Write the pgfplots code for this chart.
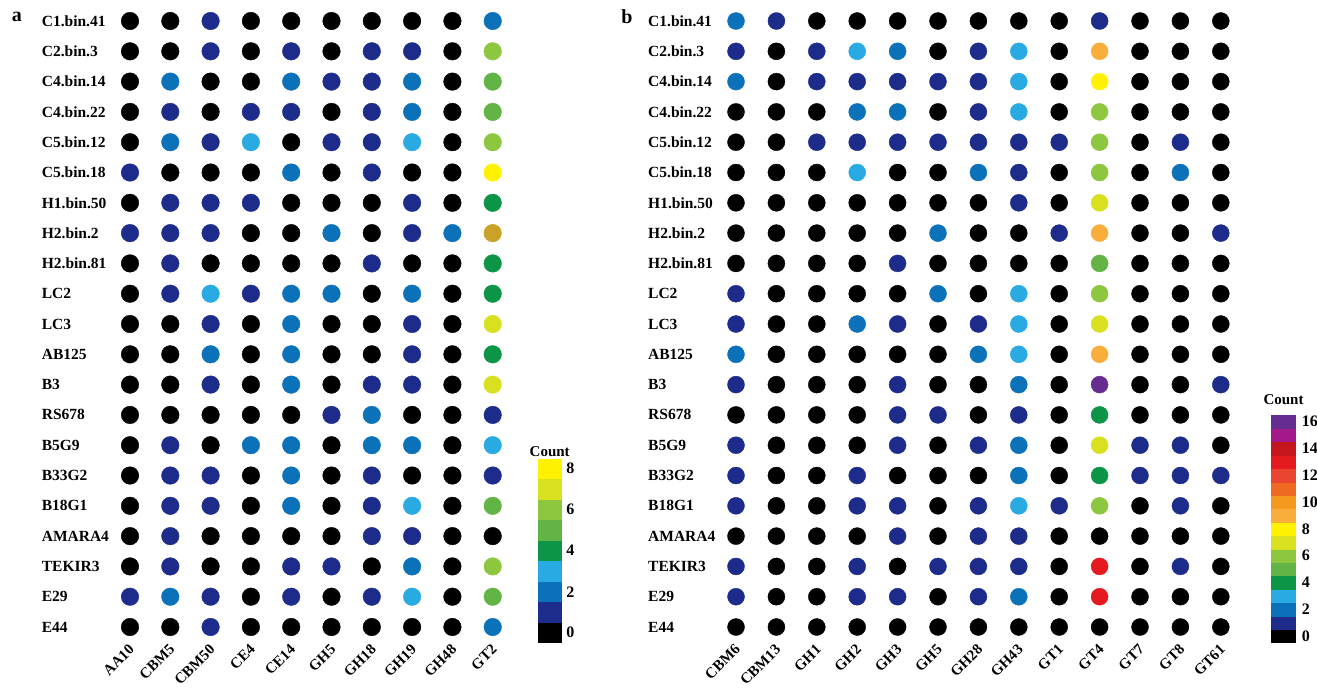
\documentclass[border=0pt]{standalone}
\usepackage{fontspec}
\setmainfont{Liberation Serif}
\usepackage{pgfplots}
\pgfplotsset{compat=1.18}
\definecolor{c0}{RGB}{0,0,0}
\definecolor{c1}{RGB}{29,44,138}
\definecolor{c2}{RGB}{11,113,185}
\definecolor{c3}{RGB}{42,170,226}
\definecolor{c4}{RGB}{12,148,71}
\definecolor{c5}{RGB}{98,180,70}
\definecolor{c6}{RGB}{141,198,63}
\definecolor{c7}{RGB}{216,224,32}
\definecolor{c8}{RGB}{255,242,0}
\definecolor{c9}{RGB}{249,174,59}
\definecolor{c10}{RGB}{243,154,30}
\definecolor{c11}{RGB}{238,106,35}
\definecolor{c12}{RGB}{233,68,48}
\definecolor{c13}{RGB}{229,26,31}
\definecolor{c14}{RGB}{196,22,28}
\definecolor{c15}{RGB}{163,25,140}
\definecolor{c16}{RGB}{102,45,145}
\definecolor{gold}{RGB}{201,162,39}
\pgfplotsset{
  /pgf/number format/assume math mode=true,
  colormap={mapA}{color=(c0) color=(c1) color=(c2) color=(c3) color=(c4) color=(c5) color=(c6) color=(c7) color=(c8)},
  colormap={mapB}{color=(c0) color=(c1) color=(c2) color=(c3) color=(c4) color=(c5) color=(c6) color=(c7) color=(c8) color=(c9) color=(c10) color=(c11) color=(c12) color=(c13) color=(c14) color=(c15) color=(c16)},
  dotpanel/.style={
    scale only axis, enlargelimits=false, y dir=reverse,
    ymin=-0.5, ymax=20.5, ytick={0,...,20},
    axis line style={draw=none}, tick style={draw=none},
    height=636.3pt,
    yticklabels={C1.bin.41,C2.bin.3,C4.bin.14,C4.bin.22,C5.bin.12,C5.bin.18,H1.bin.50,H2.bin.2,H2.bin.81,LC2,LC3,AB125,B3,RS678,B5G9,B33G2,B18G1,AMARA4,TEKIR3,E29,E44},
    yticklabel style={font=\bfseries\fontsize{15.5}{16}\selectfont, anchor=west, inner sep=0pt},
    xticklabel style={font=\bfseries\fontsize{15}{15}\selectfont, xshift=-2pt, yshift=-1pt, rotate=45, anchor=north east, inner sep=0pt},
    colormap access=piecewise constant,
    colorbar,
  },
  dots/.style={scatter, only marks, mark=*, mark size=#1, point meta=explicit,
    scatter/use mapped color={draw=mapped color, fill=mapped color}},
}
\begin{document}
\begin{tikzpicture}
\path[use as bounding box] (0,0) rectangle (1317pt,-688pt);
\node[font=\bfseries\fontsize{20}{20}\selectfont] at (17pt,-17pt) {a};
\node[font=\bfseries\fontsize{20}{20}\selectfont] at (627pt,-17pt) {b};
% ---------------- panel a ----------------
\begin{axis}[dotpanel,
  at={(109.85pt,-642.15pt)}, anchor=south west,
  width=403pt, xmin=-0.5, xmax=9.5, xtick={0,...,9},
  xticklabels={AA10,CBM5,CBM50,CE4,CE14,GH5,GH18,GH19,GH48,GT2},
  yticklabel style={xshift=-68.2pt},
  colormap name=mapA, point meta min=-0.5, point meta max=8.5,
  colorbar style={at={(parent axis.south east)}, anchor=south west,
    xshift=16.8pt, yshift=-0.8pt, scale only axis, width=23pt, height=184.5pt,
    ytick={0,2,4,6,8}, axis line style={draw=none}, tick style={draw=none},
    yticklabel style={font=\bfseries\fontsize{16}{16}\selectfont, inner sep=0pt, xshift=5pt},
    title={Count}, title style={font=\bfseries\fontsize{15}{15}\selectfont, at={(0.5,1)}, anchor=south, yshift=-4pt, inner sep=0pt}},
]
\addplot[dots=8.8pt] coordinates {
(0,0)[0] (1,0)[0] (2,0)[1] (3,0)[0] (4,0)[0] (5,0)[0] (6,0)[0] (7,0)[0] (8,0)[0] (9,0)[2]
(0,1)[0] (1,1)[0] (2,1)[1] (3,1)[0] (4,1)[1] (5,1)[0] (6,1)[1] (7,1)[1] (8,1)[0] (9,1)[6]
(0,2)[0] (1,2)[2] (2,2)[0] (3,2)[0] (4,2)[2] (5,2)[1] (6,2)[1] (7,2)[2] (8,2)[0] (9,2)[5]
(0,3)[0] (1,3)[1] (2,3)[0] (3,3)[1] (4,3)[1] (5,3)[0] (6,3)[1] (7,3)[2] (8,3)[0] (9,3)[5]
(0,4)[0] (1,4)[2] (2,4)[1] (3,4)[3] (4,4)[0] (5,4)[1] (6,4)[1] (7,4)[3] (8,4)[0] (9,4)[6]
(0,5)[1] (1,5)[0] (2,5)[0] (3,5)[0] (4,5)[2] (5,5)[0] (6,5)[1] (7,5)[0] (8,5)[0] (9,5)[8]
(0,6)[0] (1,6)[1] (2,6)[1] (3,6)[1] (4,6)[0] (5,6)[0] (6,6)[0] (7,6)[1] (8,6)[0] (9,6)[4]
(0,7)[1] (1,7)[1] (2,7)[1] (3,7)[0] (4,7)[0] (5,7)[2] (6,7)[0] (7,7)[1] (8,7)[2]
(0,8)[0] (1,8)[1] (2,8)[0] (3,8)[0] (4,8)[0] (5,8)[0] (6,8)[1] (7,8)[0] (8,8)[0] (9,8)[4]
(0,9)[0] (1,9)[1] (2,9)[3] (3,9)[1] (4,9)[2] (5,9)[2] (6,9)[0] (7,9)[2] (8,9)[0] (9,9)[4]
(0,10)[0] (1,10)[0] (2,10)[1] (3,10)[0] (4,10)[2] (5,10)[0] (6,10)[0] (7,10)[1] (8,10)[0] (9,10)[7]
(0,11)[0] (1,11)[0] (2,11)[2] (3,11)[0] (4,11)[2] (5,11)[0] (6,11)[0] (7,11)[1] (8,11)[0] (9,11)[4]
(0,12)[0] (1,12)[0] (2,12)[1] (3,12)[0] (4,12)[2] (5,12)[0] (6,12)[1] (7,12)[1] (8,12)[0] (9,12)[7]
(0,13)[0] (1,13)[0] (2,13)[0] (3,13)[0] (4,13)[0] (5,13)[1] (6,13)[2] (7,13)[0] (8,13)[0] (9,13)[1]
(0,14)[0] (1,14)[1] (2,14)[0] (3,14)[2] (4,14)[2] (5,14)[0] (6,14)[2] (7,14)[2] (8,14)[0] (9,14)[3]
(0,15)[0] (1,15)[1] (2,15)[1] (3,15)[0] (4,15)[2] (5,15)[0] (6,15)[1] (7,15)[0] (8,15)[0] (9,15)[1]
(0,16)[0] (1,16)[1] (2,16)[1] (3,16)[0] (4,16)[2] (5,16)[0] (6,16)[1] (7,16)[3] (8,16)[0] (9,16)[5]
(0,17)[0] (1,17)[1] (2,17)[0] (3,17)[0] (4,17)[0] (5,17)[0] (6,17)[1] (7,17)[1] (8,17)[0] (9,17)[0]
(0,18)[0] (1,18)[1] (2,18)[0] (3,18)[0] (4,18)[1] (5,18)[1] (6,18)[0] (7,18)[2] (8,18)[0] (9,18)[6]
(0,19)[1] (1,19)[2] (2,19)[1] (3,19)[0] (4,19)[1] (5,19)[0] (6,19)[1] (7,19)[3] (8,19)[0] (9,19)[5]
(0,20)[0] (1,20)[0] (2,20)[1] (3,20)[0] (4,20)[0] (5,20)[0] (6,20)[0] (7,20)[0] (8,20)[0] (9,20)[2]
};
% the off-scale gold dot (H2.bin.2, GT2)
\addplot[only marks, mark=*, mark size=8.8pt, color=gold] coordinates {(9,7)};
\end{axis}
% ---------------- panel b ----------------
\begin{axis}[dotpanel,
  at={(715.8pt,-642.15pt)}, anchor=south west,
  width=525.2pt, xmin=-0.5, xmax=12.5, xtick={0,...,12},
  xticklabels={CBM6,CBM13,GH1,GH2,GH3,GH5,GH28,GH43,GT1,GT4,GT7,GT8,GT61},
  yticklabel style={xshift=-67.8pt},
  colormap name=mapB, point meta min=-0.5, point meta max=16.5,
  colorbar style={at={(parent axis.south east)}, anchor=south west,
    xshift=21pt, yshift=-0.8pt, scale only axis, width=26pt, height=228pt,
    ytick={0,2,4,6,8,10,12,14,16}, axis line style={draw=none}, tick style={draw=none},
    yticklabel style={font=\bfseries\fontsize{16}{16}\selectfont, inner sep=0pt, xshift=5pt},
    title={Count}, title style={font=\bfseries\fontsize{15}{15}\selectfont, at={(0.5,1)}, anchor=south, yshift=4pt, inner sep=0pt}},
]
\addplot[dots=8.5pt] coordinates {
(0,0)[2] (1,0)[1] (2,0)[0] (3,0)[0] (4,0)[0] (5,0)[0] (6,0)[0] (7,0)[0] (8,0)[0] (9,0)[1] (10,0)[0] (11,0)[0] (12,0)[0]
(0,1)[1] (1,1)[0] (2,1)[1] (3,1)[3] (4,1)[2] (5,1)[0] (6,1)[1] (7,1)[3] (8,1)[0] (9,1)[9] (10,1)[0] (11,1)[0] (12,1)[0]
(0,2)[2] (1,2)[0] (2,2)[1] (3,2)[1] (4,2)[1] (5,2)[1] (6,2)[1] (7,2)[3] (8,2)[0] (9,2)[8] (10,2)[0] (11,2)[0] (12,2)[0]
(0,3)[0] (1,3)[0] (2,3)[0] (3,3)[2] (4,3)[2] (5,3)[0] (6,3)[1] (7,3)[3] (8,3)[0] (9,3)[6] (10,3)[0] (11,3)[0] (12,3)[0]
(0,4)[0] (1,4)[0] (2,4)[1] (3,4)[1] (4,4)[1] (5,4)[1] (6,4)[1] (7,4)[1] (8,4)[1] (9,4)[6] (10,4)[0] (11,4)[1] (12,4)[0]
(0,5)[0] (1,5)[0] (2,5)[0] (3,5)[3] (4,5)[0] (5,5)[0] (6,5)[2] (7,5)[1] (8,5)[0] (9,5)[6] (10,5)[0] (11,5)[2] (12,5)[0]
(0,6)[0] (1,6)[0] (2,6)[0] (3,6)[0] (4,6)[0] (5,6)[0] (6,6)[0] (7,6)[1] (8,6)[0] (9,6)[7] (10,6)[0] (11,6)[0] (12,6)[0]
(0,7)[0] (1,7)[0] (2,7)[0] (3,7)[0] (4,7)[0] (5,7)[2] (6,7)[0] (7,7)[0] (8,7)[1] (9,7)[9] (10,7)[0] (11,7)[0] (12,7)[1]
(0,8)[0] (1,8)[0] (2,8)[0] (3,8)[0] (4,8)[1] (5,8)[0] (6,8)[0] (7,8)[0] (8,8)[0] (9,8)[5] (10,8)[0] (11,8)[0] (12,8)[0]
(0,9)[1] (1,9)[0] (2,9)[0] (3,9)[0] (4,9)[0] (5,9)[2] (6,9)[0] (7,9)[3] (8,9)[0] (9,9)[6] (10,9)[0] (11,9)[0] (12,9)[0]
(0,10)[1] (1,10)[0] (2,10)[0] (3,10)[2] (4,10)[1] (5,10)[0] (6,10)[1] (7,10)[3] (8,10)[0] (9,10)[7] (10,10)[0] (11,10)[0] (12,10)[0]
(0,11)[2] (1,11)[0] (2,11)[0] (3,11)[0] (4,11)[0] (5,11)[0] (6,11)[2] (7,11)[3] (8,11)[0] (9,11)[9] (10,11)[0] (11,11)[0] (12,11)[0]
(0,12)[1] (1,12)[0] (2,12)[0] (3,12)[0] (4,12)[1] (5,12)[0] (6,12)[0] (7,12)[2] (8,12)[0] (9,12)[16] (10,12)[0] (11,12)[0] (12,12)[1]
(0,13)[0] (1,13)[0] (2,13)[0] (3,13)[0] (4,13)[1] (5,13)[1] (6,13)[0] (7,13)[1] (8,13)[0] (9,13)[4] (10,13)[0] (11,13)[0] (12,13)[0]
(0,14)[1] (1,14)[0] (2,14)[0] (3,14)[0] (4,14)[1] (5,14)[0] (6,14)[1] (7,14)[2] (8,14)[0] (9,14)[7] (10,14)[1] (11,14)[1] (12,14)[0]
(0,15)[1] (1,15)[0] (2,15)[0] (3,15)[1] (4,15)[0] (5,15)[0] (6,15)[0] (7,15)[2] (8,15)[0] (9,15)[4] (10,15)[1] (11,15)[1] (12,15)[1]
(0,16)[1] (1,16)[0] (2,16)[0] (3,16)[1] (4,16)[1] (5,16)[0] (6,16)[1] (7,16)[3] (8,16)[1] (9,16)[6] (10,16)[0] (11,16)[1] (12,16)[0]
(0,17)[0] (1,17)[0] (2,17)[0] (3,17)[0] (4,17)[1] (5,17)[0] (6,17)[1] (7,17)[1] (8,17)[0] (9,17)[0] (10,17)[0] (11,17)[0] (12,17)[0]
(0,18)[1] (1,18)[0] (2,18)[0] (3,18)[1] (4,18)[0] (5,18)[1] (6,18)[1] (7,18)[1] (8,18)[0] (9,18)[13] (10,18)[0] (11,18)[1] (12,18)[0]
(0,19)[1] (1,19)[0] (2,19)[0] (3,19)[1] (4,19)[1] (5,19)[0] (6,19)[1] (7,19)[2] (8,19)[0] (9,19)[13] (10,19)[0] (11,19)[0] (12,19)[0]
(0,20)[0] (1,20)[0] (2,20)[0] (3,20)[0] (4,20)[0] (5,20)[0] (6,20)[0] (7,20)[0] (8,20)[0] (9,20)[0] (10,20)[0] (11,20)[0] (12,20)[0]
};
\end{axis}
\end{tikzpicture}
\end{document}
